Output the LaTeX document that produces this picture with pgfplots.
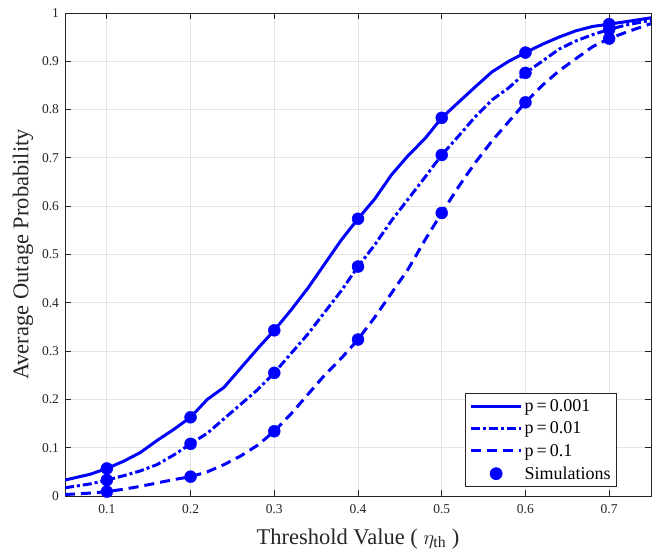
\documentclass[border=0pt]{standalone}
\usepackage{pgfplots}
\pgfplotsset{compat=1.18}
\usepackage{fontspec}
\setmainfont{Liberation Serif}
\definecolor{gridc}{RGB}{228,228,228}
\definecolor{axc}{RGB}{38,38,38}
\begin{document}
\begin{tikzpicture}
\begin{axis}[
  name=ax,
  scale only axis,
  width=586pt, height=483pt,
  xmin=0.05, xmax=0.75, ymin=0, ymax=1,
  xtick={0.1,0.2,0.3,0.4,0.5,0.6,0.7},
  ytick={0,0.1,0.2,0.3,0.4,0.5,0.6,0.7,0.8,0.9,1},
  yticklabels={0,0.1,0.2,0.3,0.4,0.5,0.6,0.7,0.8,0.9,1},
  xticklabels={0.1,0.2,0.3,0.4,0.5,0.6,0.7},
  tick align=inside, tick pos=both,
  major tick length=6pt,
  grid=major,
  grid style={gridc, line width=0.8pt},
  axis line style={axc, line width=0.8pt},
  tick style={axc, line width=0.8pt},
  ticklabel style={font=\fontsize{13.5}{16}\selectfont, text=axc},
  yticklabel style={xshift=-2.5pt},
  xticklabel style={yshift=-5pt},
  /pgf/number format/assume math mode=true,
  xlabel={Threshold Value ( $\eta_{\mathrm{th}}$ )},
  ylabel={Average Outage Probability},
  label style={font=\fontsize{22.5}{26}\selectfont, text=axc},
  xlabel style={yshift=-8pt},
  ylabel style={yshift=2pt},
  legend style={at={(0.942,0.0186)}, anchor=south east, draw=axc, line width=0.7pt,
    font=\fontsize{18}{21}\selectfont, row sep=5pt, inner xsep=4pt, inner ysep=4pt},
  legend cell align=left,
  legend image code/.code={\draw[#1, line width=3pt] (0pt,0pt) -- (50pt,0pt);},
]
\addplot[blue, line width=3pt, no marks] coordinates {
(0.05,0.033)(0.08,0.045)(0.1,0.057)(0.12,0.072)(0.14,0.09)(0.16,0.115)(0.18,0.138)(0.2,0.163)
(0.22,0.2)(0.24,0.225)(0.26,0.265)(0.28,0.305)(0.3,0.343)(0.32,0.385)(0.34,0.43)(0.36,0.48)
(0.38,0.53)(0.4,0.574)(0.42,0.615)(0.44,0.665)(0.46,0.705)(0.48,0.74)(0.5,0.783)(0.52,0.815)
(0.54,0.847)(0.56,0.878)(0.58,0.9)(0.6,0.918)(0.62,0.935)(0.64,0.95)(0.66,0.963)(0.68,0.972)
(0.7,0.977)(0.72,0.982)(0.75,0.99)};
\addlegendentry{p\,=\,0.001}
\addplot[blue, line width=3pt, no marks, dash pattern=on 9pt off 3pt on 3pt off 3pt] coordinates {
(0.05,0.017)(0.08,0.025)(0.1,0.033)(0.12,0.042)(0.14,0.052)(0.16,0.065)(0.18,0.085)(0.2,0.108)
(0.22,0.13)(0.24,0.16)(0.26,0.19)(0.28,0.22)(0.3,0.255)(0.32,0.295)(0.34,0.335)(0.36,0.38)
(0.38,0.425)(0.4,0.475)(0.42,0.52)(0.44,0.57)(0.46,0.615)(0.48,0.66)(0.5,0.706)(0.52,0.745)
(0.54,0.785)(0.56,0.82)(0.58,0.845)(0.6,0.876)(0.62,0.9)(0.64,0.925)(0.66,0.942)(0.68,0.955)
(0.7,0.966)(0.72,0.975)(0.75,0.985)};
\addlegendentry{p\,=\,0.01}
\addplot[blue, line width=3pt, no marks, dash pattern=on 10pt off 6pt] coordinates {
(0.05,0.003)(0.08,0.006)(0.1,0.009)(0.12,0.014)(0.14,0.02)(0.16,0.027)(0.18,0.034)(0.2,0.04)
(0.22,0.05)(0.24,0.065)(0.26,0.083)(0.28,0.105)(0.3,0.134)(0.32,0.17)(0.34,0.21)(0.36,0.25)
(0.38,0.285)(0.4,0.324)(0.42,0.37)(0.44,0.42)(0.46,0.47)(0.48,0.53)(0.5,0.586)(0.52,0.64)
(0.54,0.69)(0.56,0.735)(0.58,0.775)(0.6,0.815)(0.62,0.85)(0.64,0.88)(0.66,0.905)(0.68,0.93)
(0.7,0.947)(0.72,0.96)(0.75,0.978)};
\addlegendentry{p\,=\,0.1}
\addplot[only marks, mark=*, mark size=6pt, blue, mark options={fill=blue, draw=blue},
  legend image code/.code={\fill[blue] (25pt,0pt) circle (6pt);}] coordinates {
(0.1,0.057)(0.2,0.163)(0.3,0.343)(0.4,0.574)(0.5,0.783)(0.6,0.918)(0.7,0.977)
(0.1,0.033)(0.2,0.108)(0.3,0.255)(0.4,0.475)(0.5,0.706)(0.6,0.876)(0.7,0.966)
(0.1,0.009)(0.2,0.04)(0.3,0.134)(0.4,0.324)(0.5,0.586)(0.6,0.815)(0.7,0.947)};
\addlegendentry{Simulations}
\end{axis}
\pgfresetboundingbox
\path ([shift={(-65pt,-55pt)}]ax.south west) rectangle ([shift={(7pt,13pt)}]ax.north east);
\end{tikzpicture}
\end{document}
